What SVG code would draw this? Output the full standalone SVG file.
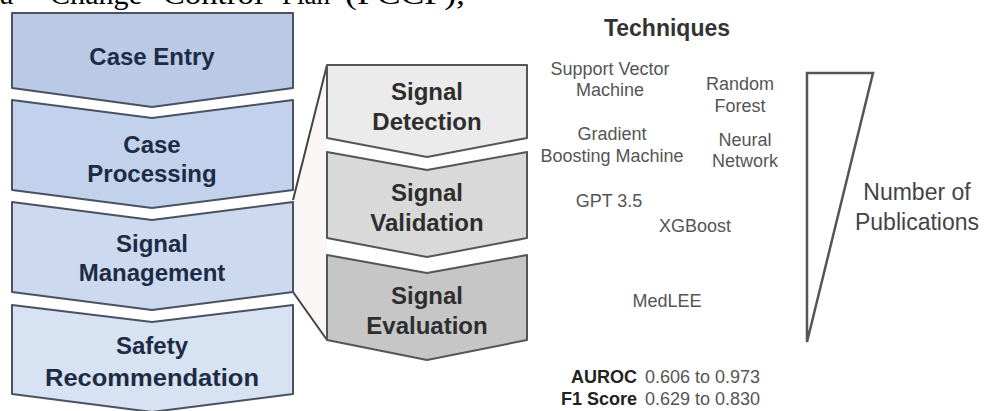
<svg xmlns="http://www.w3.org/2000/svg" width="984" height="411" viewBox="0 0 984 411">
<defs>
<style>
.top{font-family:"Liberation Serif",serif;font-size:30px;fill:#000}
.lbox{stroke:#4a5160;stroke-width:2;stroke-linejoin:round}
.mbox{stroke:#555;stroke-width:2;stroke-linejoin:round}
.lt{font-family:"Liberation Sans",Arial,sans-serif;font-weight:bold;font-size:24px;fill:#1e2b44;text-anchor:middle}
.mt{font-family:"Liberation Sans",Arial,sans-serif;font-weight:bold;font-size:24px;fill:#2e2e2e;text-anchor:middle}
.tech{font-family:"Liberation Sans",Arial,sans-serif;font-size:18px;fill:#555;text-anchor:middle}
.title{font-family:"Liberation Sans",Arial,sans-serif;font-weight:bold;font-size:23px;fill:#333;text-anchor:middle}
.mb{font-family:"Liberation Sans",Arial,sans-serif;font-weight:bold;font-size:18px;fill:#222;text-anchor:end}
.mv{font-family:"Liberation Sans",Arial,sans-serif;font-size:18px;fill:#555}
.pub{font-family:"Liberation Sans",Arial,sans-serif;font-size:23px;fill:#444;text-anchor:middle}
.conn{stroke:#444;stroke-width:2;fill:none}
</style>
</defs>
<rect width="984" height="411" fill="#fff"/>
<g id="header">
<text class="top" x="0" y="4">a</text>
<text class="top" x="50" y="4" textLength="92" lengthAdjust="spacingAndGlyphs">Change</text>
<text class="top" x="163" y="4" textLength="100" lengthAdjust="spacingAndGlyphs">Control</text>
<text class="top" x="282" y="4" textLength="48" lengthAdjust="spacingAndGlyphs">Plan</text>
<text class="top" x="345" y="4" textLength="120" lengthAdjust="spacingAndGlyphs">(PCCP),</text>
</g>
<g id="connectors">
<polygon points="293,200 327,65 327,340 293,292" fill="#fbf6f6" stroke="none"/>
<line class="conn" x1="293" y1="200" x2="327" y2="65"/>
<line class="conn" x1="293" y1="292" x2="327" y2="340"/>
</g>
<g id="case-entry">
<path class="lbox" fill="#b9c9e6" d="M12,13 H293 V88 L152,107 L12,88 Z"/>
<text class="lt" x="152" y="65">Case Entry</text>
</g>
<g id="case-processing">
<path class="lbox" fill="#c3d2ec" d="M12,100 L152,118 L293,100 V190 L152,208 L12,190 Z"/>
<text class="lt" x="152" y="153">Case</text>
<text class="lt" x="152" y="182">Processing</text>
</g>
<g id="signal-management">
<path class="lbox" fill="#ccd9ef" d="M12,202 L152,220 L293,202 V292 L152,310 L12,292 Z"/>
<text class="lt" x="152" y="252">Signal</text>
<text class="lt" x="152" y="281">Management</text>
</g>
<g id="safety-recommendation">
<path class="lbox" fill="#d7e2f3" d="M12,305 L152,322 L293,305 V394 L152,412 L12,394 Z"/>
<text class="lt" x="152" y="354">Safety</text>
<text class="lt" x="152" y="386" textLength="214" lengthAdjust="spacingAndGlyphs">Recommendation</text>
</g>
<g id="signal-detection">
<path class="mbox" fill="#ebebeb" d="M327,65 H527 V138 L427,157 L327,138 Z"/>
<text class="mt" x="427" y="100">Signal</text>
<text class="mt" x="427" y="130">Detection</text>
</g>
<g id="signal-validation">
<path class="mbox" fill="#d9d9d9" d="M327,152 L427,170 L527,152 V238 L427,257 L327,238 Z"/>
<text class="mt" x="427" y="201">Signal</text>
<text class="mt" x="427" y="231">Validation</text>
</g>
<g id="signal-evaluation">
<path class="mbox" fill="#c6c6c6" d="M327,255 L427,273 L527,255 V340 L427,360 L327,340 Z"/>
<text class="mt" x="427" y="304">Signal</text>
<text class="mt" x="427" y="334">Evaluation</text>
</g>
<g id="techniques">
<text class="title" x="667" y="36">Techniques</text>
<text class="tech" x="610" y="75">Support Vector</text>
<text class="tech" x="610" y="96">Machine</text>
<text class="tech" x="740" y="90">Random</text>
<text class="tech" x="740" y="112">Forest</text>
<text class="tech" x="612" y="140">Gradient</text>
<text class="tech" x="612" y="162">Boosting Machine</text>
<text class="tech" x="745" y="146">Neural</text>
<text class="tech" x="745" y="167">Network</text>
<text class="tech" x="609" y="207">GPT 3.5</text>
<text class="tech" x="695" y="232">XGBoost</text>
<text class="tech" x="667" y="307">MedLEE</text>
</g>
<g id="metrics">
<text class="mb" x="637" y="383">AUROC</text>
<text class="mv" x="645" y="383">0.606 to 0.973</text>
<text class="mb" x="637" y="405">F1 Score</text>
<text class="mv" x="645" y="405">0.629 to 0.830</text>
</g>
<g id="publications">
<polygon points="807,73 873,73 807,342" fill="none" stroke="#555" stroke-width="2.5" stroke-linejoin="miter"/>
<text class="pub" x="917" y="200">Number of</text>
<text class="pub" x="917" y="230">Publications</text>
</g>
</svg>
